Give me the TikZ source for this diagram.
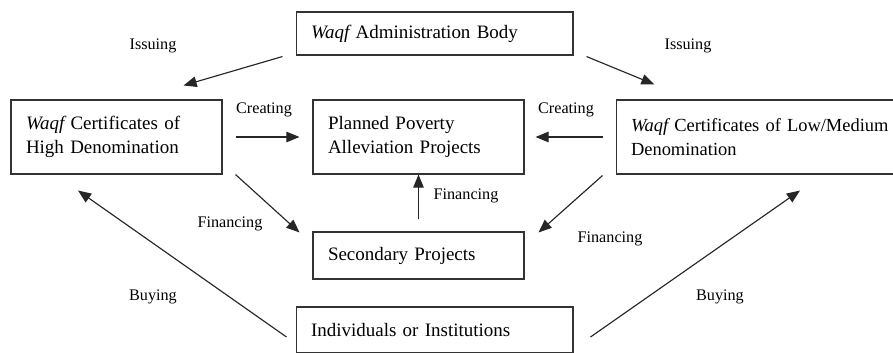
\documentclass[tikz,border=0pt]{standalone}
\usepackage{fontspec}
\setmainfont{Liberation Serif}
\usetikzlibrary{arrows.meta}

\newcommand{\waqf}{\textit{Waqf}\kern-0.12em\ }

\begin{document}
\begin{tikzpicture}[x=0.02cm,y=-0.02cm]
    \tikzstyle{block}=[draw=black!80,line width=0.6pt,align=left,inner xsep=0.3cm,inner ysep=0pt,font=\fontsize{10.8}{14}\selectfont]
    \tikzstyle{flow}=[draw=black!85,line width=0.65pt,-{Triangle[length=7.5pt,width=6pt]}]
    \tikzstyle{tag}=[font=\fontsize{9.2}{11}\selectfont]

    \useasboundingbox (0,0) rectangle (893,352);

    \node[block,text width=4.94cm,minimum height=0.86cm] (admin) at (434.5,33.5) {\waqf Administration Body};
    \node[block,text width=3.62cm,minimum height=1.48cm] (high) at (116.5,137) {\waqf Certificates of\\High Denomination};
    \node[block,text width=3.62cm,minimum height=1.48cm] (plan) at (418.5,137) {Planned Poverty\\Alleviation Projects};
    \node[block,text width=5.48cm,minimum height=1.48cm,font=\fontsize{10.5}{14}\selectfont] (low) at (768,137) {\waqf Certificates of Low/Medium\\Denomination};
    \node[block,text width=3.62cm,minimum height=0.94cm] (second) at (418.5,255.5) {Secondary Projects};
    \node[block,text width=4.94cm,minimum height=0.92cm] (indiv) at (434.5,330) {Individuals or Institutions};

    \foreach \name/\x/\y/\txt in {iss-l/153/46/Issuing, iss-r/688/46/Issuing,
            cre-l/264/110/Creating, cre-r/566/110/Creating,
            fin-m/466/196/Financing, fin-l/230/224/Financing, fin-r/610/239/Financing,
            buy-l/153/297/Buying, buy-r/720/297/Buying}
        \node[tag] (\name) at (\x,\y) {\txt};

    % issuing
    \draw[flow] ([shift={(-13,1)}]admin.south west) -- ([shift={(-39,-14)}]high.north east);
    \draw[flow] ([shift={(13,1)}]admin.south east) -- ([shift={(39,-15)}]low.north west);
    % creating
    \draw[flow,shorten <=0.26cm,shorten >=0.26cm] (high.east) -- (plan.west);
    \draw[flow,shorten <=0.26cm,shorten >=0.22cm] (low.west) -- (plan.east);
    % financing
    \draw[flow,shorten <=0.24cm] (second.north) -- (plan.south);
    \draw[flow] ([shift={(13,0)}]high.south east) -- ([shift={(-13,1)}]second.north west);
    \draw[flow] ([shift={(-13,1)}]low.south west) -- ([shift={(14,1)}]second.north east);
    % buying
    \draw[flow] ([shift={(-9,7)}]indiv.west) -- ([shift={(-38.5,16)}]high.south);
    \draw[flow] ([shift={(17,7)}]indiv.east) -- ([shift={(32,16)}]low.south);
\end{tikzpicture}
\end{document}
